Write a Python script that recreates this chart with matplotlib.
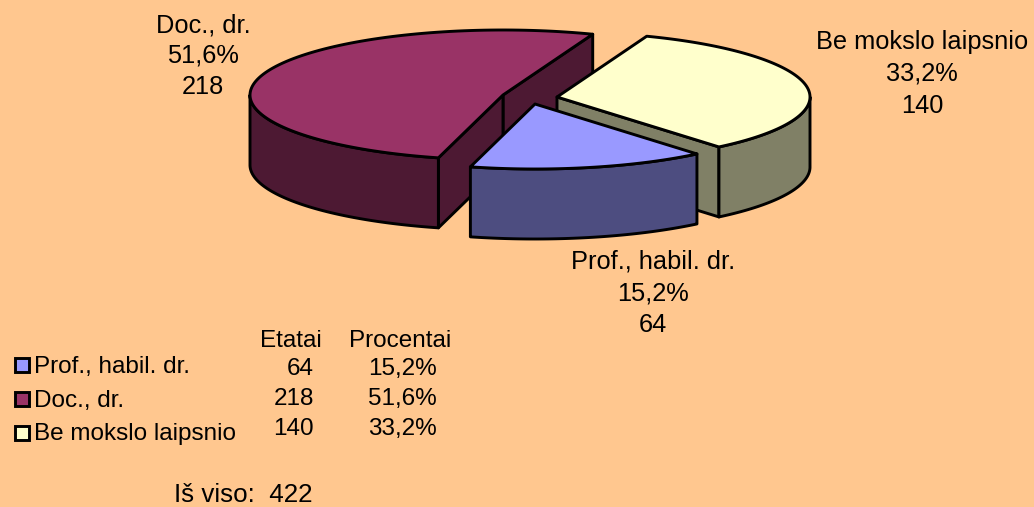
import numpy as np
import matplotlib
matplotlib.use("Agg")
import matplotlib.pyplot as plt
from matplotlib.patches import Polygon

names = ["Prof., habil. dr.", "Doc., dr.", "Be mokslo laipsnio"]
etatai = [64, 218, 140]
procentai = ["15,2%", "51,6%", "33,2%"]
total = 422

top_colors = ["#9999FF", "#993366", "#FFFFCC"]
side_colors = ["#4D4D80", "#4D1933", "#808066"]
bg = "#FFC78F"

# pie geometry in pixels
a, b, depth = 253, 65, 70
start_angle = 309.8
centers = [(535, 104), (503, 95), (557, 97)]
label_pos = [(653, 293), (203, 56), (922, 74)]
label_spacing = [1.4, 1.36, 1.44]

plt.rcParams["font.family"] = ["Liberation Sans", "DejaVu Sans"]
fs_label = 18.3
fs_table = 17.5

fig = plt.figure(figsize=(10.34, 5.07), dpi=100, facecolor=bg)
ax = fig.add_axes([0, 0, 1, 1])
ax.set_xlim(0, 1034)
ax.set_ylim(507, 0)
ax.axis("off")

# slices go clockwise from the start angle
spans = np.array(etatai) / sum(etatai) * 360
ends = start_angle - np.cumsum(spans)
starts = ends + spans


def rim(c, t1, t2):
    t = np.radians(np.linspace(t1, t2, 120))
    return np.column_stack([c[0] + a * np.cos(t), c[1] - b * np.sin(t)])


def poly(pts, color, z):
    ax.add_patch(Polygon(pts, closed=True, facecolor=color, edgecolor="black",
                         linewidth=2.1, joinstyle="round", zorder=z))


def down(pts):
    return pts + np.array([0, depth])


def wall(c, t1, t2, color, z):
    # only the front half of the rim (sin < 0) is visible
    lo, hi = max(t1, 180), min(t2, 360)
    if hi > lo:
        r = rim(c, lo, hi)
        poly(np.vstack([r, down(r)[::-1]]), color, z)


# back to front: purple, yellow, blue
for i, z in [(1, 1), (2, 2), (0, 3)]:
    c = np.array(centers[i], dtype=float)
    t1, t2 = ends[i] % 360, starts[i] % 360
    if t2 < t1:
        t2 += 360
    # radial side faces
    p1 = rim(c, t1, t1)[0]
    p2 = rim(c, t2, t2)[0]
    if i == 1:
        poly(np.array([c, p1, down(p1), down(c)]), side_colors[i], z)
        poly(np.array([c, p2, down(p2), down(c)]), side_colors[i], z)
    if i == 2:
        poly(np.array([c, p1, down(p1), down(c)]), side_colors[i], z)
    wall(c, t1, t2, side_colors[i], z)
    if t2 > 360:
        wall(c, t1 - 360, t2 - 360, side_colors[i], z)
    r = rim(c, t1, t2)
    poly(np.vstack([c, r]), top_colors[i], z + 0.5)

for i in range(3):
    ax.text(label_pos[i][0], label_pos[i][1],
            f"{names[i]}\n{procentai[i]}\n{etatai[i]}",
            ha="center", va="center", fontsize=fs_label,
            linespacing=label_spacing[i], zorder=5)

# legend and small table
box_y = [365, 399, 433]
legend_y = [367, 401, 434]
value_y = [369, 399, 429]
for i in range(3):
    ax.add_patch(plt.Rectangle((14.5, box_y[i] - 7), 14, 14, facecolor=top_colors[i],
                               edgecolor="black", linewidth=2.1, zorder=5))
    ax.text(34, legend_y[i], names[i], ha="left", va="center", fontsize=fs_table)
    ax.text(314, value_y[i], str(etatai[i]), ha="right", va="center", fontsize=fs_table)
    ax.text(402, value_y[i], procentai[i], ha="center", va="center", fontsize=fs_table)

ax.text(291, 341, "Etatai", ha="center", va="center", fontsize=fs_table)
ax.text(400, 341, "Procentai", ha="center", va="center", fontsize=fs_table)
ax.text(312, 495, f"Iš viso:  {total}", ha="right", va="center", fontsize=18.7)

fig.savefig("out.png", dpi=100, facecolor=bg)
